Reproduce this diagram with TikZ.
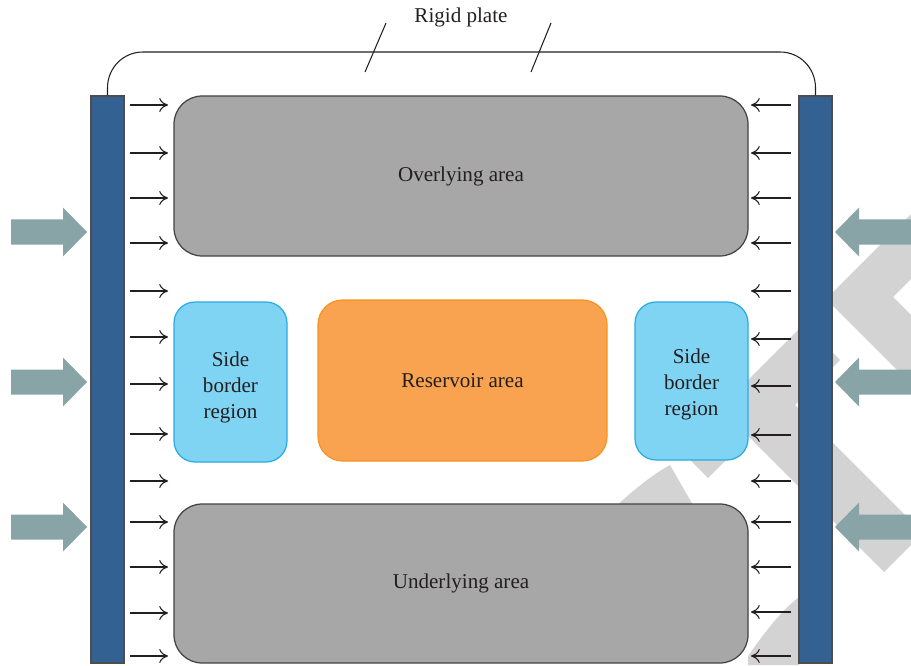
\documentclass[tikz,border=0pt]{standalone}
\usepackage{fontspec}
\setmainfont{Liberation Serif}
\usetikzlibrary{arrows.meta,fit}
\definecolor{barblue}{RGB}{51,97,145}
\definecolor{boxgray}{RGB}{167,167,167}
\definecolor{skyfill}{RGB}{127,211,243}
\definecolor{skyline}{RGB}{41,171,226}
\definecolor{orfill}{RGB}{249,163,80}
\definecolor{orline}{RGB}{247,147,30}
\definecolor{tealarrow}{RGB}{136,164,167}
\definecolor{wmgray}{RGB}{211,211,211}
\definecolor{ink}{RGB}{35,31,32}
\begin{document}
\begin{tikzpicture}[x=0.02cm,y=-0.02cm,
  graybox/.style={draw=ink!85, line width=0.7pt, fill=boxgray, rounded corners=16pt, inner sep=0pt},
  bluebox/.style={draw=skyline, line width=0.7pt, fill=skyfill, rounded corners=12pt, inner sep=0pt},
  orbox/.style={draw=orline, line width=0.7pt, fill=orfill, rounded corners=14pt, inner sep=0pt},
  barnode/.style={draw=ink!80, line width=0.6pt, fill=barblue, inner sep=0pt},
  lbl/.style={text=ink, font=\fontsize{12}{14.7}\selectfont, align=center, inner sep=0pt},
  push/.style={draw=ink, line width=0.6pt, -{To[length=5pt,width=8pt]}},
  plate/.style={draw=ink, line width=0.6pt},
  bigarrow/.style={fill=tealarrow},
  wmshape/.style={fill=wmgray}]
\useasboundingbox (0,0) rectangle (911,665);
% watermark
\begin{scope}
\clip (0,0) rectangle (911,665);
\fill[wmshape] (826,299) -- (911,214) -- (911,279) -- (893,297) -- (911,315) -- (911,384) -- cycle;
\fill[wmshape] (720,408) -- (804,324) -- (840,360) -- (795,405) -- (923,533) -- (884,572) -- cycle;
\fill[wmshape] (680,450) -- (708,478) -- (736,450) -- (708,422) -- cycle;
\fill[wmshape] (605,520) -- (612,510) .. controls (630,493) and (650,476) .. (670,465) -- (693,505) -- (700,520) -- cycle;
\fill[wmshape] (748,656) .. controls (765,632) and (780,612) .. (799,597) -- (799,665) -- (748,665) -- cycle;
\end{scope}
% boxes
\node[graybox, fit={(174,96) (748,256)}] (over) {};
\node[graybox, fit={(174,504) (748,663)}] (under) {};
\node[bluebox, fit={(174,302) (287,462)}] (sidel) {};
\node[orbox, fit={(318,300) (607,461)}] (res) {};
\node[bluebox, fit={(635,302) (748,460)}] (sider) {};
\node[lbl] (overt) at (over) {Overlying area};
\node[lbl] (undert) at (under) {Underlying area};
\node[lbl] (sidelt) at ([yshift=-3pt]sidel.center) {Side\\border\\region};
\node[lbl] (rest) at (res) {Reservoir area};
\node[lbl] (sidert) at ([yshift=-2pt]sider.center) {Side\\border\\region};
% bars
\node[barnode, fit={(91,96) (124,663)}] (lbar) {};
\node[barnode, fit={(799,96) (832,663)}] (rbar) {};
% rigid plate
\draw[plate] (lbar.north) -- (107.5,88) .. controls (107.5,68) and (123,52) .. (143,52) -- (780,52) .. controls (800,52) and (815.5,68) .. (815.5,88) -- (rbar.north);
\draw[plate] (365,72) -- (386,23);
\draw[plate] (531,72) -- (551,23);
\node[lbl] (platet) at (461,17) {Rigid plate};
% small arrows
\foreach \y in {105,153,198,243,291,337,384,434,481,522,567,613,656}
  \draw[push] (130,\y) -- (168,\y);
\foreach \y in {105,153,198,243,291,339,386,435,481,522,567,612,656}
  \draw[push] (791,\y) -- (751,\y);
% big arrows
\foreach \c in {232,382,527} {
  \fill[bigarrow] (11,{\c-12.5}) -- (63,{\c-12.5}) -- (63,{\c-24.5}) -- (87,\c) -- (63,{\c+24.5}) -- (63,{\c+12.5}) -- (11,{\c+12.5}) -- cycle;
  \fill[bigarrow] (911,{\c-12.5}) -- (859,{\c-12.5}) -- (859,{\c-24.5}) -- (835,\c) -- (859,{\c+24.5}) -- (859,{\c+12.5}) -- (911,{\c+12.5}) -- cycle;
}
\end{tikzpicture}
\end{document}
